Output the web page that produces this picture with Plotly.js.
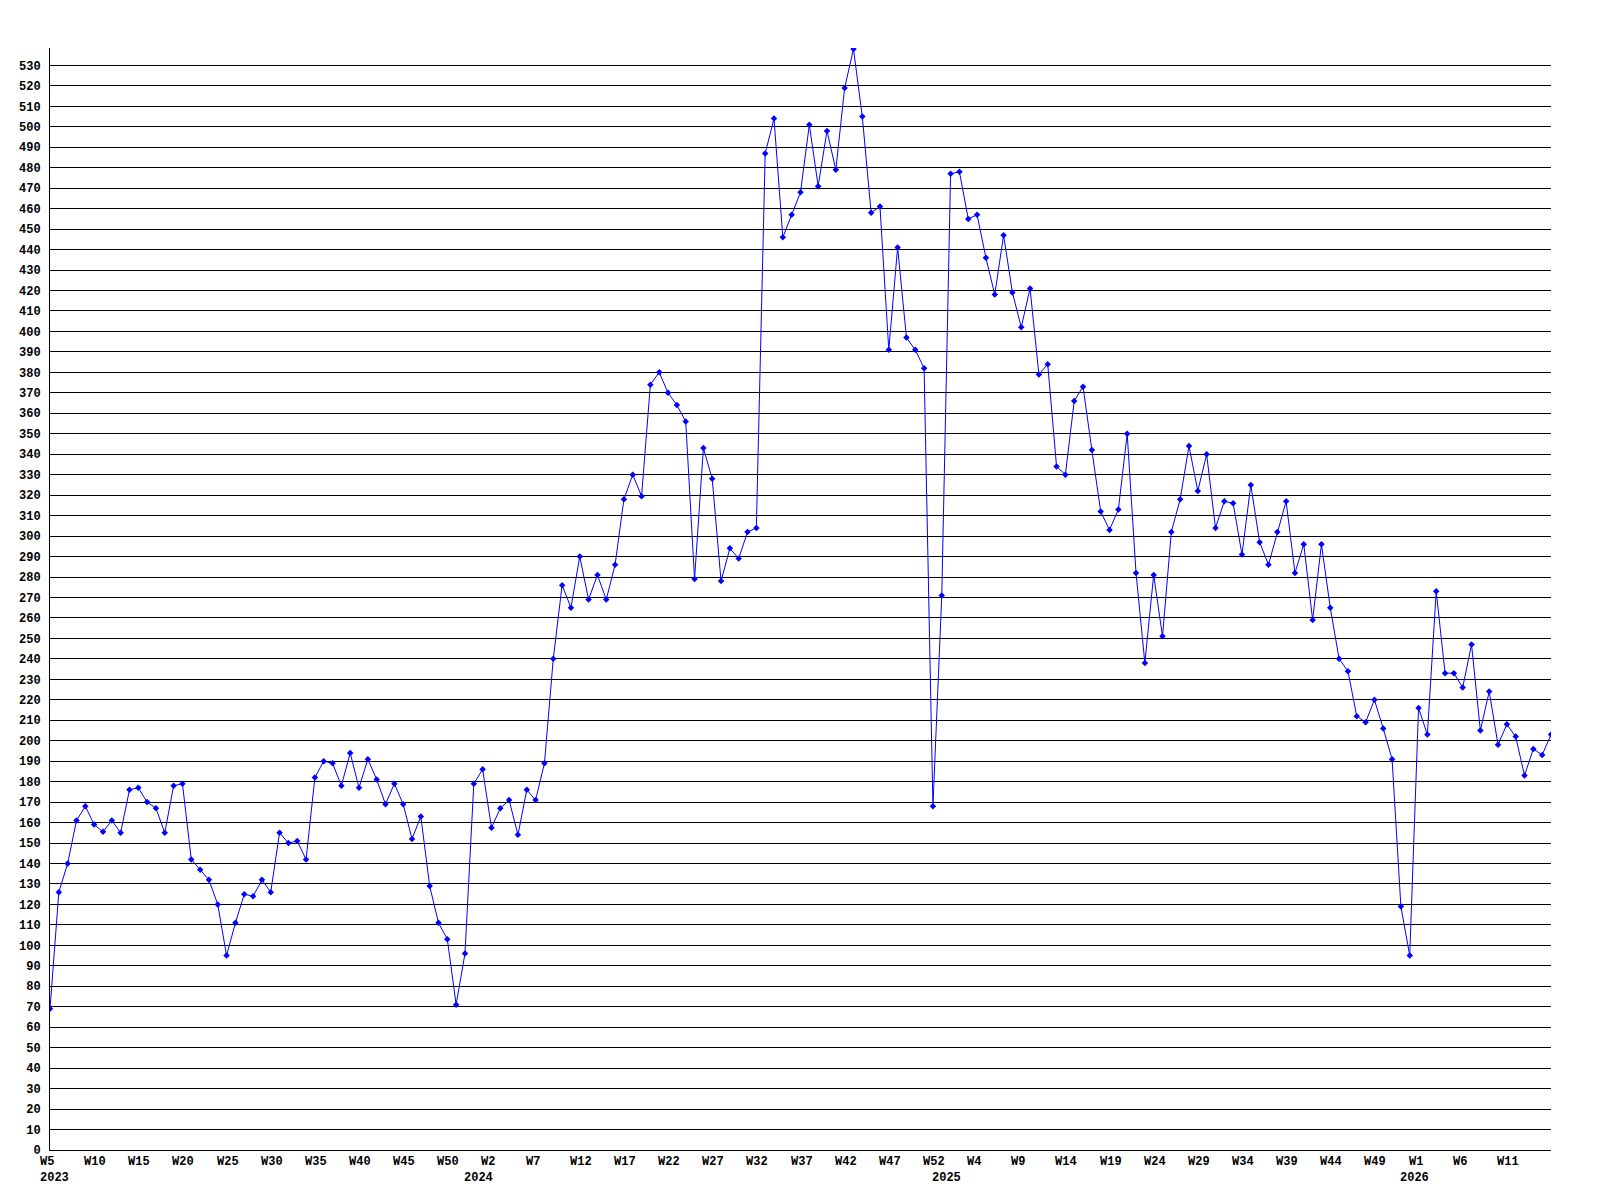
<!DOCTYPE html>
<html>
<head>
<meta charset="utf-8">
<script src="https://cdn.plot.ly/plotly-3.0.1.min.js"></script>
<style>
  html, body { margin: 0; padding: 0; background: #ffffff; }
  #chart { width: 1600px; height: 1200px; }
</style>
</head>
<body>
<div id="chart"></div>
<script>
// Weekly values, from W5 2023 onwards (one value per week)
const values = [
  69, 126, 140, 161, 168, 159, 155.5, 161, 155, 176,
  177, 170, 167, 155, 178, 179, 142, 137, 132, 120,
  95, 111, 125, 124, 132, 126, 155, 150, 151, 142,
  182, 190, 189, 178, 194, 177, 191, 181, 169, 179,
  169, 152, 163, 129, 111, 103, 71, 96, 179, 186,
  157.5, 167, 171, 154, 176, 171, 189, 240, 276, 265,
  290, 269, 281, 269, 286, 318, 330, 319.5, 374, 380,
  370, 364, 356, 279, 343, 328, 278, 294, 289, 302,
  304, 487, 504, 446, 457, 468, 501, 471, 498, 479,
  519, 538, 505, 458, 461, 391, 441, 397, 391, 382,
  168, 271, 477, 478, 455, 457, 436, 418, 447, 419,
  402, 421, 379, 384, 334, 330, 366, 373, 342, 312,
  303, 313, 350, 282, 238, 281, 251, 302, 318, 344,
  322, 340, 304, 317, 316, 291, 325, 297, 286, 302,
  317, 282, 296, 259, 296, 265, 240, 234, 212, 209,
  220, 206, 191, 119, 95, 216, 203, 273, 233, 233,
  226, 247, 205, 224, 198, 208, 202, 183, 196, 193,
  203
];

// Week tick labels along the x axis (one every 5 weeks)
const tickWeeks = [
  'W5','W10','W15','W20','W25','W30','W35','W40','W45','W50',
  'W2','W7','W12','W17','W22','W27','W32','W37','W42','W47','W52',
  'W4','W9','W14','W19','W24','W29','W34','W39','W44','W49',
  'W1','W6','W11'
];
const tickStep = 5;

// Year labels and the number of weekly values that fall in each year
const yearLabels = ['2023', '2024', '2025', '2026'];
const weeksPerYear = [48, 53, 53, 17];

const xs = values.map((_, i) => i);

const labelFont = { family: 'Liberation Mono, DejaVu Sans Mono, monospace', size: 12, color: '#000000', weight: 'bold' };

const annotations = [];
tickWeeks.forEach((w, k) => {
  annotations.push({
    x: k * tickStep, xref: 'x', y: 0, yref: 'paper',
    xanchor: 'left', yanchor: 'top', align: 'left',
    xshift: -12, yshift: -3, showarrow: false,
    text: w, font: labelFont
  });
});
let start = 0;
yearLabels.forEach((y, k) => {
  annotations.push({
    x: start, xref: 'x', y: 0, yref: 'paper',
    xanchor: 'left', yanchor: 'top', align: 'left',
    xshift: -12, yshift: -19, showarrow: false,
    text: y, font: labelFont
  });
  start += weeksPerYear[k];
});

const trace = {
  type: 'scatter',
  mode: 'lines+markers',
  x: xs,
  y: values,
  line: { color: '#0000ff', width: 1 },
  marker: { symbol: 'diamond', size: 5, color: '#0000ff' },
  hoverinfo: 'skip'
};

const layout = {
  width: 1600,
  height: 1200,
  paper_bgcolor: '#ffffff',
  plot_bgcolor: '#ffffff',
  margin: { l: 50, r: 49, t: 48, b: 50 },
  showlegend: false,
  xaxis: {
    range: [0, values.length - 1],
    showgrid: false,
    zeroline: false,
    showticklabels: false,
    ticks: '',
    showline: true,
    linecolor: '#000000',
    linewidth: 1
  },
  yaxis: {
    range: [0, 538.5],
    tick0: 0,
    dtick: 10,
    showgrid: true,
    gridcolor: '#000000',
    gridwidth: 1,
    zeroline: true,
    zerolinecolor: '#000000',
    zerolinewidth: 1,
    showline: true,
    linecolor: '#000000',
    linewidth: 1,
    ticks: '',
    ticklabelstandoff: 6,
    tickfont: labelFont
  },
  annotations: annotations
};

Plotly.newPlot('chart', [trace], layout, { displayModeBar: false, staticPlot: true });
</script>
</body>
</html>
